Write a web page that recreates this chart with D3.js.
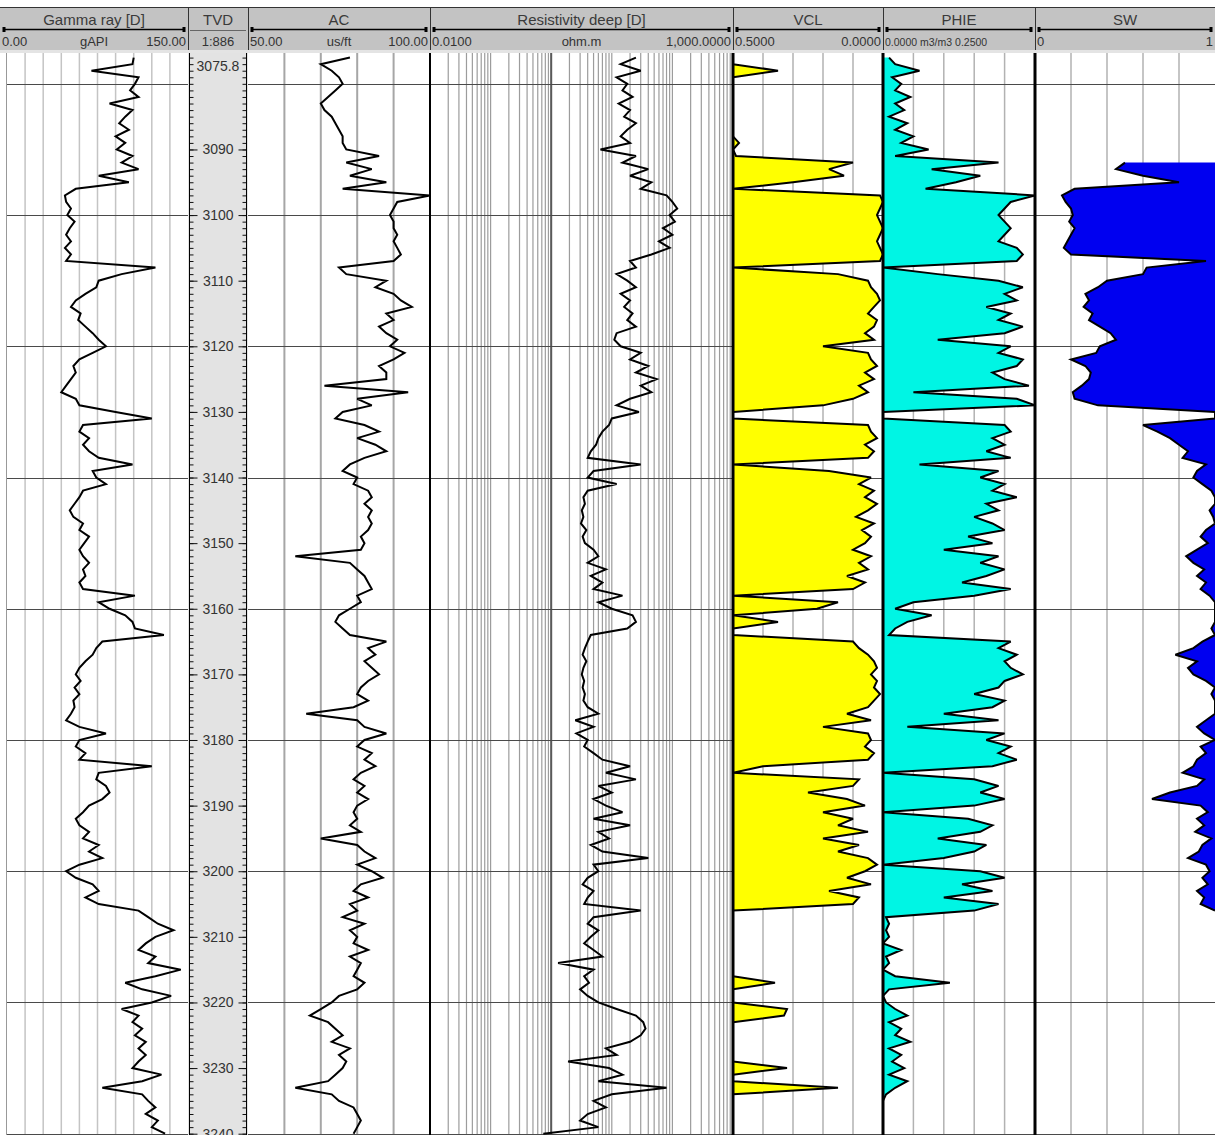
<!DOCTYPE html>
<html>
<head>
<meta charset="utf-8">
<script src="https://cdn.jsdelivr.net/npm/d3@7"></script>
<style>
  body { margin: 0; background: #fff; }
  svg { display: block; font-family: "Liberation Sans", Arial, sans-serif; }
</style>
</head>
<body>
<svg id="log" width="1215" height="1135"></svg>
<script>
// depth index, one sample per metre
const depths = d3.range(3076, 3241);

const gammaRay = [
  105,104,70,109,106,102,109,85,104,98,
  93,101,90,98,91,104,95,109,76,101,
  57,48,49,53,50,56,52,49,53,48,
  53,49,123,95,76,74,65,57,53,61,
  59,65,71,76,82,71,60,55,57,53,
  49,45,57,60,90,120,63,60,68,63,
  68,76,104,71,74,82,63,60,56,52,
  55,63,60,68,64,60,63,68,63,65,
  60,63,106,76,85,98,104,106,130,79,
  74,71,65,60,57,61,56,60,55,56,
  53,49,60,82,60,57,65,60,120,76,
  74,82,85,79,68,63,57,60,68,63,
  76,68,79,60,49,57,71,76,65,76,
  109,117,125,138,123,115,109,123,117,144,
  123,98,112,136,120,95,109,104,112,106,
  115,109,115,109,104,128,112,79,112,117,
  123,115,125,120,131
];

const sonicAC = [
  78,70,73,75,76,74,72,70,71,73,
  74,75,76,76,77,86,77,84,78,88,
  76,100,91,90,89,90,90,91,90,91,
  92,90,75,77,88,85,90,92,95,88,
  90,86,88,91,89,93,90,86,88,88,
  71,94,80,84,76,74,82,86,80,85,
  88,82,78,76,80,79,83,84,82,84,
  83,84,83,81,82,81,63,78,80,82,
  83,84,80,81,78,75,74,76,78,88,
  83,85,82,84,86,83,81,80,83,79,
  66,80,82,88,82,80,84,82,85,81,
  79,82,80,83,80,79,80,78,81,70,
  80,82,85,80,84,87,81,79,83,78,
  80,76,82,78,80,79,83,78,81,80,
  79,82,80,75,73,70,67,72,74,76,
  73,78,75,77,76,74,72,63,73,75,
  79,80,81,80,79
];

const resDeep = [
  25,14,30,12,18,15,22,13,20,16,
  25,18,14,20,6.5,25,15,40,20,45,
  30,80,100,120,90,110,70,100,60,90,
  45,20,25,12,18,25,14,20,16,22,
  18,25,12,11,14,30,20,40,25,55,
  30,45,20,12,28,10,9,7,6,5.5,
  4.5,4,30,5,4,12,4,3.4,3.6,3.2,
  3.4,3.1,3.8,3.3,3.6,5,6,4,8,4.5,
  7,5,15,6,10,22,25,18,4.5,4,
  3.6,3.3,3.8,3.4,3.2,3.5,3.3,3.6,3.4,4,
  6,2.5,5,2.6,4,3.5,5,7,20,8,
  25,6,10,5,8,15,5,20,6,9,
  4.5,7,40,5,6,4,3.3,5,4,3.5,
  30,5,4,6,4.5,3.5,5,7,1.3,5,
  3.5,4.2,3,4,6,12,25,33,36,30,
  20,8,12,1.9,9,15,6,80,10,5,
  8,4,3,6,0.74
];

const vclData = [
  0.6,0.6,0.35,0.6,0.6,0.6,0.6,0.6,0.6,0.6,
  0.6,0.6,0.6,0.48,0.6,0.49,0.1,0.18,0.13,0.3,
  0.55,0.01,0.0,0.01,0.02,0.01,0.0,0.01,0.02,0.01,
  0.0,0.01,0.6,0.15,0.05,0.04,0.02,0.01,0.03,0.05,
  0.02,0.03,0.06,0.03,0.2,0.05,0.04,0.02,0.06,0.03,
  0.08,0.05,0.1,0.2,0.6,0.6,0.05,0.04,0.02,0.06,
  0.03,0.05,0.55,0.18,0.04,0.08,0.03,0.06,0.02,0.05,
  0.09,0.03,0.07,0.04,0.06,0.1,0.04,0.08,0.05,0.12,
  0.06,0.1,0.55,0.15,0.22,0.6,0.35,0.6,0.6,0.1,
  0.08,0.05,0.03,0.02,0.04,0.02,0.03,0.01,0.03,0.05,
  0.12,0.04,0.2,0.05,0.04,0.06,0.03,0.05,0.4,0.55,
  0.08,0.1,0.25,0.12,0.06,0.2,0.1,0.15,0.05,0.2,
  0.08,0.15,0.05,0.02,0.06,0.12,0.04,0.18,0.08,0.1,
  0.6,0.6,0.6,0.6,0.6,0.6,0.6,0.6,0.6,0.6,
  0.6,0.36,0.6,0.6,0.6,0.32,0.33,0.6,0.6,0.6,
  0.6,0.6,0.6,0.6,0.32,0.6,0.6,0.15,0.6,0.6,
  0.6,0.6,0.6,0.6,0.6
];

const phieData = [
  0.01,0.02,0.06,0.015,0.03,0.02,0.045,0.02,0.035,0.01,
  0.04,0.02,0.05,0.03,0.075,0.02,0.19,0.08,0.16,0.12,
  0.07,0.25,0.21,0.2,0.19,0.2,0.21,0.2,0.19,0.22,
  0.23,0.22,0.0,0.09,0.19,0.23,0.2,0.22,0.17,0.21,
  0.19,0.23,0.2,0.09,0.21,0.19,0.23,0.22,0.18,0.2,
  0.24,0.05,0.22,0.25,0.0,0.0,0.2,0.21,0.18,0.2,
  0.17,0.21,0.06,0.19,0.16,0.2,0.18,0.22,0.17,0.19,
  0.15,0.18,0.2,0.14,0.18,0.1,0.19,0.16,0.2,0.17,
  0.13,0.21,0.15,0.05,0.02,0.08,0.04,0.02,0.01,0.21,
  0.19,0.22,0.2,0.21,0.23,0.2,0.19,0.15,0.2,0.18,
  0.1,0.19,0.04,0.2,0.17,0.21,0.19,0.22,0.18,0.0,
  0.15,0.19,0.16,0.2,0.15,0.0,0.14,0.18,0.16,0.09,
  0.17,0.15,0.1,0.0,0.16,0.2,0.13,0.18,0.1,0.19,
  0.15,0.005,0.01,0.005,0.01,0.0,0.03,0.005,0.01,0.0,
  0.02,0.11,0.01,0.0,0.005,0.02,0.04,0.01,0.03,0.02,
  0.045,0.01,0.03,0.015,0.035,0.01,0.04,0.02,0.005,0.0,
  0.0,0.0,0.0,0.0,0.0
];

const swData = [
  null,null,null,null,null,null,null,null,null,null,
  null,null,null,null,null,null,0.5,0.45,0.6,0.8,
  0.22,0.15,0.17,0.2,0.21,0.19,0.22,0.2,0.18,0.16,
  0.2,0.95,0.62,0.6,0.4,0.35,0.28,0.3,0.27,0.32,
  0.3,0.36,0.42,0.45,0.36,0.34,0.2,0.28,0.31,0.3,
  0.26,0.21,0.22,0.35,1.0,1.0,0.6,0.68,0.75,0.8,
  0.85,0.82,0.95,0.9,0.88,0.93,0.98,1.0,1.0,0.97,
  0.99,1.0,0.95,0.92,0.96,0.9,0.84,0.88,0.94,0.9,
  0.95,0.92,0.97,1.0,1.0,1.0,1.0,0.98,1.0,0.93,
  0.88,0.78,0.9,0.85,0.88,0.95,1.0,0.98,1.0,1.0,
  1.0,0.95,0.9,0.94,1.0,0.92,0.95,0.9,0.88,0.82,
  0.94,0.9,0.75,0.65,0.92,0.96,0.9,0.94,0.89,0.98,
  0.93,0.91,0.85,0.95,0.97,0.93,0.96,0.9,0.94,0.92,
  1.0,null,null,null,null,null,null,null,null,null,
  null,null,null,null,null,null,null,null,null,null,
  null,null,null,null,null,null,null,null,null,null,
  null,null,null,null,null
];

const depthLabels = [3090,3100,3110,3120,3130,3140,3150,3160,3170,3180,3190,3200,3210,3220,3230,3240];
const topDepthLabel = '3075.8';

const trackTitles = ['Gamma ray [D]', 'TVD', 'AC', 'Resistivity deep [D]', 'VCL', 'PHIE', 'SW'];
const scaleLeft   = ['0.00', '', '50.00', '0.0100', '0.5000', '0.0000 m3/m3 0.2500', '0'];
const scaleUnits  = ['gAPI', '1:886', 'us/ft', 'ohm.m', '', '', ''];
const scaleRight  = ['150.00', '', '100.00', '1,000.0000', '0.0000', '', '1'];

// layout
const W = 1215, H = 1135;
const hdrTop = 7, hdrBot = 50, dataTop = 53;
const edges = [0, 188, 248, 430, 733, 883, 1035, 1215];

const rows = depths.map((d, i) => ({
  depth: d, gr: gammaRay[i], ac: sonicAC[i], res: resDeep[i],
  vcl: vclData[i], phie: phieData[i], sw: swData[i]
}));

const y = d3.scaleLinear().domain([3075.3, 3240.2]).range([dataTop, H]);
const xGR = d3.scaleLinear().domain([0, 150]).range([7, 188]);
const xAC = d3.scaleLinear().domain([50, 100]).range([248, 430]);
const xRes = d3.scaleLog().domain([0.01, 1000]).range([430, 733]);
const xVCL = d3.scaleLinear().domain([0.5, 0]).range([733, 883]).clamp(true);
const xPHIE = d3.scaleLinear().domain([0, 0.25]).range([883, 1035]).clamp(true);
const xSW = d3.scaleLinear().domain([0, 1]).range([1035, 1215]).clamp(true);

const svg = d3.select('#log');
const defs = svg.append('defs');

// ---------- header ----------
svg.append('rect').attr('x', 0).attr('y', hdrTop).attr('width', W).attr('height', hdrBot - hdrTop)
  .attr('fill', '#c3c3c3');
svg.append('rect').attr('x', 0).attr('y', hdrBot).attr('width', W).attr('height', dataTop - hdrBot)
  .attr('fill', '#e4e4e4');
svg.append('line').attr('x1', 0).attr('x2', W).attr('y1', hdrTop + 0.5).attr('y2', hdrTop + 0.5)
  .attr('stroke', '#333');

const hdr = svg.append('g');
trackTitles.forEach((t, i) => {
  const x0 = edges[i], x1 = edges[i + 1], cx = (x0 + x1) / 2;
  hdr.append('text').attr('x', cx).attr('y', 25).attr('text-anchor', 'middle')
    .style('font-size', '15px').style('fill', '#3a3a3a').text(t);

  // curve style line
  if (i === 1) {
    hdr.append('line').attr('x1', x0 + 2).attr('x2', x1 - 2).attr('y1', 30.5).attr('y2', 30.5)
      .attr('stroke', '#666').attr('stroke-width', 1);
  } else {
    const lx0 = x0 + 4, lx1 = Math.min(x1, W) - 4;
    hdr.append('line').attr('x1', lx0).attr('x2', lx1).attr('y1', 29.5).attr('y2', 29.5)
      .attr('stroke', '#000').attr('stroke-width', 1.5);
    [lx0, lx1].forEach(px => hdr.append('rect').attr('x', px - 1.5).attr('y', 27).attr('width', 3)
      .attr('height', 5).attr('fill', '#000'));
  }

  const small = i === 5;
  hdr.append('text').attr('x', x0 + 2).attr('y', 46)
    .style('font-size', small ? '10.5px' : '13px').style('fill', '#333').text(scaleLeft[i]);
  hdr.append('text').attr('x', cx).attr('y', 46).attr('text-anchor', 'middle')
    .style('font-size', '13px').style('fill', '#333').text(scaleUnits[i]);
  hdr.append('text').attr('x', x1 - 2).attr('y', 46).attr('text-anchor', 'end')
    .style('font-size', '13px').style('fill', '#333').text(scaleRight[i]);
});
edges.slice(1, -1).forEach(e => {
  hdr.append('line').attr('x1', e + 0.5).attr('x2', e + 0.5).attr('y1', hdrTop).attr('y2', hdrBot)
    .attr('stroke', '#333');
});

// ---------- data area ----------
const body = svg.append('g');

function clipFor(id, x0, x1) {
  defs.append('clipPath').attr('id', id).append('rect')
    .attr('x', x0).attr('y', dataTop).attr('width', x1 - x0).attr('height', H - dataTop);
  return body.append('g').attr('clip-path', `url(#${id})`);
}

function vgrid(g, values, scale, color, width) {
  g.selectAll(null).data(values).enter().append('line')
    .attr('x1', d => scale(d)).attr('x2', d => scale(d))
    .attr('y1', dataTop).attr('y2', H)
    .attr('stroke', color).attr('stroke-width', width);
}

function hgrid(g, x0, x1) {
  g.selectAll(null).data(d3.range(3080, 3241, 20)).enter().append('line')
    .attr('x1', x0).attr('x2', x1)
    .attr('y1', d => Math.round(y(d)) + 0.5).attr('y2', d => Math.round(y(d)) + 0.5)
    .attr('stroke', '#4a4a4a').attr('stroke-width', 1);
}

const logLine = (key, xs) => d3.line()
  .defined(r => r[key] != null)
  .x(r => xs(r[key])).y(r => y(r.depth));

function drawCurve(g, key, xs) {
  g.append('path').datum(rows).attr('d', logLine(key, xs))
    .attr('fill', 'none').attr('stroke', '#000').attr('stroke-width', 2)
    .attr('stroke-linejoin', 'miter').attr('stroke-miterlimit', 3);
}

// Gamma ray
const gGR = clipFor('cGR', 0, 188);
vgrid(gGR, d3.range(15, 150, 15), xGR, '#c4c4c4', 1.5);
hgrid(gGR, 6, 188);
drawCurve(gGR, 'gr', xGR);
body.append('line').attr('x1', 6.5).attr('x2', 6.5).attr('y1', dataTop).attr('y2', H)
  .attr('stroke', '#999');

// TVD
const gTVD = body.append('g');
gTVD.append('rect').attr('x', 188).attr('y', dataTop).attr('width', 60).attr('height', H - dataTop)
  .attr('fill', '#e3e3e3');
const axL = gTVD.append('g').attr('transform', 'translate(189.5,0)')
  .call(d3.axisRight(y).tickValues(depths).tickSize(4).tickFormat(''));
const axR = gTVD.append('g').attr('transform', 'translate(246.5,0)')
  .call(d3.axisLeft(y).tickValues(depths).tickSize(4).tickFormat(''));
const axL2 = gTVD.append('g').attr('transform', 'translate(189.5,0)')
  .call(d3.axisRight(y).tickValues(depthLabels).tickSize(8).tickFormat(''));
const axR2 = gTVD.append('g').attr('transform', 'translate(246.5,0)')
  .call(d3.axisLeft(y).tickValues(depthLabels).tickSize(8).tickFormat(''));
[axL, axR, axL2, axR2].forEach(a => {
  a.select('.domain').remove();
  a.selectAll('line').attr('stroke', '#111');
});
gTVD.append('line').attr('x1', 189.5).attr('x2', 189.5).attr('y1', dataTop).attr('y2', H).attr('stroke', '#000');
gTVD.append('line').attr('x1', 246.5).attr('x2', 246.5).attr('y1', dataTop).attr('y2', H).attr('stroke', '#000');
gTVD.selectAll('.dl').data(depthLabels).enter().append('text')
  .attr('x', 218).attr('y', d => y(d)).attr('dy', '0.36em').attr('text-anchor', 'middle')
  .style('font-size', '14px').style('fill', '#333').text(d => d);
gTVD.append('text').attr('x', 218).attr('y', 71).attr('text-anchor', 'middle')
  .style('font-size', '14px').style('fill', '#333').text(topDepthLabel);

// AC
const gAC = clipFor('cAC', 248, 430);
vgrid(gAC, d3.range(60, 100, 10), xAC, '#a6a6a6', 2);
hgrid(gAC, 248, 430);
drawCurve(gAC, 'ac', xAC);

// Resistivity (log grid)
const gRes = clipFor('cRes', 430, 733);
const logLines = [];
[0.01, 0.1, 1, 10, 100].forEach(dec => d3.range(2, 11).forEach(m => logLines.push(dec * m)));
vgrid(gRes, logLines.filter(v => v < 1000), xRes, '#9c9c9c', 1.2);
vgrid(gRes, [1], xRes, '#5a5a5a', 2);
hgrid(gRes, 430, 733);
drawCurve(gRes, 'res', xRes);

// VCL
const gVCL = clipFor('cVCL', 733, 883);
vgrid(gVCL, [0.4, 0.3, 0.2, 0.1], xVCL, '#b2b2b2', 1.5);
hgrid(gVCL, 733, 883);
gVCL.append('path').datum(rows)
  .attr('d', d3.area().x0(xVCL(0.5)).x1(r => xVCL(r.vcl)).y(r => y(r.depth)))
  .attr('fill', '#ffff00');
drawCurve(gVCL, 'vcl', xVCL);

// PHIE
const gPH = clipFor('cPH', 883, 1035);
vgrid(gPH, [0.05, 0.1, 0.15, 0.2], xPHIE, '#b2b2b2', 1.5);
hgrid(gPH, 883, 1035);
gPH.append('path').datum(rows)
  .attr('d', d3.area().x0(xPHIE(0)).x1(r => xPHIE(r.phie)).y(r => y(r.depth)))
  .attr('fill', '#00f5e4');
drawCurve(gPH, 'phie', xPHIE);

// SW
const gSW = clipFor('cSW', 1035, 1215);
vgrid(gSW, [0.2, 0.4, 0.6, 0.8], xSW, '#b2b2b2', 1.5);
hgrid(gSW, 1035, 1215);
gSW.append('path').datum(rows)
  .attr('d', d3.area().defined(r => r.sw != null).x0(xSW(1)).x1(r => xSW(r.sw)).y(r => y(r.depth)))
  .attr('fill', '#0000f0');
drawCurve(gSW, 'sw', xSW);

// track borders
[[430, 2], [733, 3], [883, 3], [1035, 3]].forEach(([x, w]) => {
  body.append('line').attr('x1', x).attr('x2', x).attr('y1', dataTop).attr('y2', H)
    .attr('stroke', '#000').attr('stroke-width', w);
});
</script>
</body>
</html>
